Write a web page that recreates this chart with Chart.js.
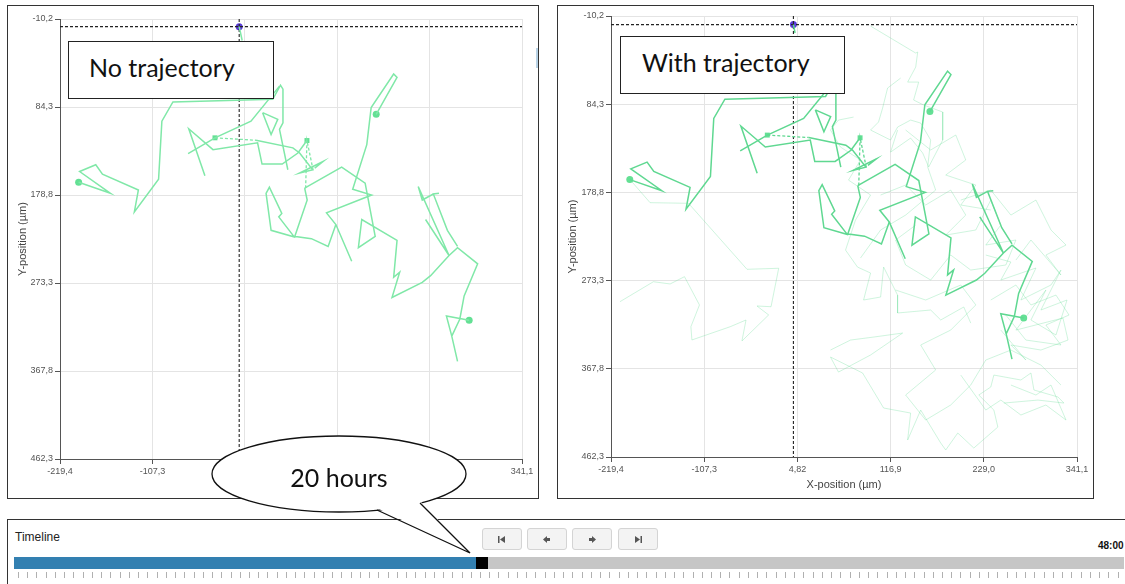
<!DOCTYPE html>
<html>
<head>
<meta charset="utf-8">
<script src="https://cdn.jsdelivr.net/npm/chart.js@4.4.0/dist/chart.umd.min.js"></script>
<style>
  body { margin: 0; width: 1125px; height: 584px; position: relative; overflow: hidden; background: #fff; font-family: 'Liberation Sans', Arial, sans-serif; }
  .panel { position: absolute; box-sizing: border-box; border: 1px solid #333; }
  canvas { position: absolute; }
  .label-box { position: absolute; box-sizing: border-box; border: 1.5px solid #222; background: #fff; font-family: Lato, 'Open Sans', sans-serif; font-size: 25px; color: #111; z-index: 5; }
  .btn { position: absolute; top: 528px; width: 40px; height: 22px; box-sizing: border-box; border: 1px solid #d4d4d4; border-radius: 3px; background: #f3f3f3; display: flex; align-items: center; justify-content: center; }
</style>
</head>
<body>

<div class="panel" style="left:7px;top:5px;width:532px;height:494px"></div>
<div class="panel" style="left:557px;top:5px;width:537px;height:494px"></div>
<div style="position:absolute;left:536px;top:48px;width:2px;height:20px;background:#b9d3e6"></div>

<canvas id="left-chart" style="left:8px;top:6px" width="530" height="492"></canvas>
<canvas id="right-chart" style="left:558px;top:6px" width="535" height="492"></canvas>

<div class="label-box" style="left:68px;top:41px;width:206px;height:58px;padding:10px 0 0 20px">No trajectory</div>
<div class="label-box" style="left:620px;top:36px;width:225px;height:58px;padding:10px 0 0 21px">With trajectory</div>

<!-- timeline -->
<div style="position:absolute;left:7px;top:519px;width:1130px;height:80px;box-sizing:border-box;border:1px solid #333"></div>
<div style="position:absolute;left:15px;top:530px;font-size:12px;color:#222">Timeline</div>
<div class="btn" style="left:482px"><svg width="10" height="9"><rect x="1" y="1" width="1.5" height="7" fill="#555"/><polygon points="3,4.5 8,1 8,8" fill="#555"/></svg></div>
<div class="btn" style="left:527px"><svg width="10" height="9"><polygon points="1,4.5 5,1 5,8" fill="#555"/><rect x="5" y="3" width="3" height="3" fill="#555"/></svg></div>
<div class="btn" style="left:572px"><svg width="10" height="9"><rect x="2" y="3" width="3" height="3" fill="#555"/><polygon points="9,4.5 5,1 5,8" fill="#555"/></svg></div>
<div class="btn" style="left:618px"><svg width="10" height="9"><polygon points="7,4.5 2,1 2,8" fill="#555"/><rect x="7.5" y="1" width="1.5" height="7" fill="#555"/></svg></div>
<div style="position:absolute;left:1098px;top:540px;font-size:10px;font-weight:bold;color:#111">48:00</div>
<div style="position:absolute;left:14px;top:557px;width:1110px;height:12px;background:#c6c6c6"></div>
<div style="position:absolute;left:14px;top:557px;width:462px;height:12px;background:#3380b1"></div>
<div style="position:absolute;left:476px;top:557px;width:12px;height:12px;background:#000"></div>
<div style="position:absolute;left:18px;top:572px;width:1107px;height:6px;background:repeating-linear-gradient(to right,#b0b0b0 0 1px,transparent 1px 9.24px)"></div>

<svg style="position:absolute;left:0;top:0;z-index:10" width="1125" height="584">
  <ellipse cx="339" cy="474" rx="127" ry="38" fill="#fff" stroke="#111" stroke-width="1.3"/>
  <polygon points="377,508 470,553 420,501" fill="#fff" stroke="none"/>
  <polyline points="377,510 470,553 420,503" fill="none" stroke="#111" stroke-width="1.3"/>
  <text x="339" y="487" text-anchor="middle" font-family="Lato, 'Open Sans', sans-serif" font-size="25" fill="#111">20 hours</text>
</svg>

<script>
const xTicks = [-219.4, -107.3, 4.82, 116.9, 229.0, 341.1];
const xTickLabels = ['-219,4', '-107,3', '4,82', '116,9', '229,0', '341,1'];
const yTicks = [-10.2, 84.3, 178.8, 273.3, 367.8, 462.3];
const yTickLabels = ['-10,2', '84,3', '178,8', '273,3', '367,8', '462,3'];

// cursor position (x, y) in µm
const cursorLeft = [-2, -2];
const cursorRight = [0, -1];
const cursorTailLeft = [[-2, -2], [1.6, 12.9]];
const cursorTailRight = [[0, -1], [2, 8]];

// tracked cells, positions in µm
const track1 = [[-196.8,165.1],[-158.2,177.0],[-195.6,153.6],[-176.0,146.3],[-167.9,156.4],[-124.3,173.4],[-129.2,196.9],[-99.8,161.8],[-95.8,99.5],[-82.4,78.9],[38.7,76.0],[48.1,60.8],[51.1,65.1],[51.1,101.2],[46.9,108.4],[57.0,151.7]];
const track2 = [[-64.0,134.4],[-31.4,117.4],[12.3,99.5],[46.9,61.9]];
const track2b = [[18.4,120.0],[63.1,128.2],[71.3,133.7],[87.2,151.7],[71.3,155.3],[99.8,142.8],[89.6,149.9]];
const track3 = [[-43.6,158.2],[-63.2,107.7],[-33.8,130.1],[20.3,122.8],[25.7,145.6],[50.2,145.6],[69.2,133.7],[80.2,120.3]];
const track4 = [[164.2,92.2],[189.5,52.5],[185.4,48.9],[158.1,84.9],[152.8,124.7],[135.7,172.6],[158.7,178.8],[103.9,198.0],[115.3,210.5],[134.5,249.9]];
const track5 = [[77.4,171.5],[80.5,184.2],[65.2,223.9],[36.7,216.7],[30.6,177.0],[34.6,170.5],[49.7,198.6],[46.0,202.3],[64.3,223.2],[85.6,225.7],[105.9,234.0],[115.3,210.5]];
const track6 = [[77.4,171.5],[122.3,148.8],[150.8,166.1],[163.0,223.2],[142.6,235.4],[146.7,205.1],[189.5,227.5],[185.4,267.2],[192.7,261.8],[183.4,288.9],[220.1,272.7],[230.2,265.4],[252.6,243.8],[262.9,235.4],[287.3,252.7],[270.9,287.1],[265.7,311.9],[255.9,330.4],[262.9,357.4],[255.9,330.4],[249.4,308.7],[277.0,313.4]];
const track7 = [[224.1,205.1],[252.6,243.8],[215.2,169.8],[220.1,184.2],[233.5,177.7],[240.4,177.0],[233.5,177.7],[250.6,216.7],[262.9,234.0]];
const track8 = [[26.4,90.4],[44.8,97.6],[36.7,113.9],[26.4,90.4]];

const dashLink1 = [[-31.4,117.4],[18.4,120.0]];
const dashLink2 = [[78.6,171.5],[80.2,120.3],[87.6,151.7]];
const dotMarks = [[-196.8,165.1],[164.2,92.2],[277.0,313.4]];
const squareMarks = [[-31.4,117.4],[80.2,120.3]];

// past trajectories (right panel only)
const fade1 = [[-194.4,167.3],[-172.4,189.8],[-126.2,190.5],[-55.8,261.2],[-17.7,260.1],[-26.9,301.3],[-43.8,300.5],[-29.8,310.1],[-61.9,338.0],[-57.0,315.5],[-76.0,322.7],[-122.1,336.9],[-123.3,322.7],[-113.0,299.4],[-131.0,269.1],[-148.3,276.9],[-168.4,274.5],[-208.6,295.9]];
const fade2 = [[92.8,0.6],[147.1,29.5],[149.5,28.4],[147.1,44.5],[137.4,60.6],[150.7,60.6],[144.6,79.8],[156.7,85.2],[179.6,92.7],[179.6,122.7],[162.7,151.6],[155.5,136.6],[141.0,120.6],[116.9,135.6],[125.3,112.0]];
const fade3 = [[129.0,56.3],[113.3,67.0],[107.3,88.4],[102.4,103.4],[92.8,112.0],[116.9,122.7],[125.3,108.8],[141.0,101.3],[153.1,104.5],[165.1,122.7],[161.5,151.6],[171.1,176.3],[135.0,203.1],[104.9,219.1],[80.7,249.1]];
const fade4 = [[72.3,98.1],[54.2,101.3],[44.6,112.0],[56.6,130.2],[80.7,144.1],[66.3,165.6],[92.8,181.6],[74.7,208.4],[62.7,240.6],[77.1,258.8],[92.8,265.2],[84.4,294.1],[104.9,290.9],[108.5,258.8],[125.3,288.8],[125.3,308.0],[165.1,304.8],[177.2,315.5],[204.9,301.6],[213.3,318.8]];
const fade5 = [[44.6,347.7],[68.7,337.0],[96.4,333.8],[131.4,329.5],[92.8,353.0],[54.2,371.3],[44.6,355.2],[83.2,372.3],[108.5,409.8],[141.0,415.2],[137.4,444.1],[153.1,412.0],[177.2,447.3],[183.2,454.8],[197.7,436.6],[217.0,452.7],[245.9,430.2],[241.1,412.0],[223.0,395.9],[237.4,387.3],[241.1,374.5],[273.6,379.8],[285.7,372.3],[289.3,390.5],[318.2,398.0],[325.4,404.5],[294.1,401.3],[253.1,404.5]];
const fade6 = [[231.4,245.9],[261.6,253.4],[249.5,272.7],[291.7,259.8],[273.6,294.1],[309.8,278.0],[321.8,262.0],[297.7,304.8],[329.1,294.1],[315.8,331.6],[285.7,315.5],[303.7,283.4],[267.6,326.3],[324.2,313.4],[330.3,337.0],[297.7,347.7],[261.6,342.3],[279.6,358.4],[249.5,326.3]];
const fade7 = [[104.9,181.6],[135.0,170.9],[159.1,192.3],[189.2,176.3],[207.3,203.1],[183.2,224.5],[219.4,219.1],[237.4,187.0],[249.5,213.8],[231.4,235.2],[267.6,229.8],[255.5,256.6],[213.3,262.0],[189.2,245.9],[165.1,272.7],[135.0,256.6],[122.9,229.8],[147.1,213.8]];
const fade8 = [[122.9,283.4],[159.1,294.1],[201.3,278.0],[219.4,299.4],[189.2,326.3],[153.1,342.3],[171.1,369.1],[135.0,395.9],[159.1,422.7],[189.2,406.6],[213.3,385.2],[231.4,358.4],[261.6,347.7],[297.7,363.8],[321.8,385.2]];
const fade9 = [[201.3,187.0],[237.4,176.3],[261.6,203.1],[291.7,187.0],[309.8,219.1],[327.9,235.2],[303.7,245.9],[321.8,267.3],[285.7,229.8],[267.6,251.3]];
const fade10 = [[201.3,374.5],[231.4,412.0],[249.5,401.3],[273.6,417.3],[303.7,406.6],[327.9,422.7],[309.8,385.2],[291.7,395.9],[261.6,385.2]];
const fade11 = [[135.0,112.0],[165.1,133.4],[195.3,117.3],[207.3,144.1],[183.2,160.2],[219.4,170.9],[201.3,192.3],[237.4,197.7]];
const fade12 = [[237.4,294.1],[267.6,278.0],[285.7,299.4],[315.8,288.8],[331.5,310.2],[303.7,320.9],[321.8,342.3],[279.6,337.0],[255.5,310.2]];

const tracks = [track1, track2, track2b, track3, track4, track5, track6, track7, track8];
const fades = [fade1, fade2, fade3, fade4, fade5, fade6, fade7, fade8, fade9, fade10, fade11, fade12];

const FONT = "'Liberation Sans', Arial, sans-serif";
const MARK = '#63e094';

const toPts = arr => arr.map(([x, y]) => ({ x, y }));

function lineDs(arr, color, width, dash) {
  return {
    data: toPts(arr),
    showLine: true,
    borderColor: color,
    borderWidth: width,
    borderDash: dash || [],
    pointRadius: 0,
    fill: false,
    tension: 0,
  };
}

function markDs(arr, style, color, r) {
  return {
    data: toPts(arr),
    showLine: false,
    pointStyle: style,
    pointRadius: r,
    pointBackgroundColor: color,
    pointBorderColor: color,
    pointBorderWidth: 0,
  };
}

function cursorSets(cur, tail, tailColor) {
  return [
    lineDs(tail, tailColor, 1.5),
    lineDs([[-219.4, cur[1]], [341.1, cur[1]]], '#222', 1.1, [3, 2]),
    lineDs([[cur[0], -10.2], [cur[0], 462.3]], '#222', 1.1, [3, 2]),
    markDs([cur], 'circle', '#5a3ddb', 3.5),
  ];
}

function makeScales(xAxisH, yAxisW, showXTitle) {
  return {
    x: {
      type: 'linear',
      min: -219.4,
      max: 341.1,
      afterBuildTicks: s => { s.ticks = xTicks.map(v => ({ value: v })); },
      afterFit: s => { s.height = xAxisH; },
      ticks: {
        autoSkip: false,
        maxRotation: 0,
        padding: 2,
        color: '#555',
        font: { family: FONT, size: 9 },
        callback: (v, i) => xTickLabels[i],
      },
      grid: { color: '#e4e4e4', tickColor: '#555', tickLength: 5 },
      border: { color: '#555', width: 1 },
      title: {
        display: showXTitle,
        text: 'X-position (µm)',
        color: '#444',
        font: { family: FONT, size: 11 },
        padding: { top: 4, bottom: 6 },
      },
    },
    y: {
      type: 'linear',
      reverse: true,
      min: -10.2,
      max: 462.3,
      afterBuildTicks: s => { s.ticks = yTicks.map(v => ({ value: v })); },
      afterFit: s => { s.width = yAxisW; },
      ticks: {
        autoSkip: false,
        padding: 2,
        color: '#555',
        font: { family: FONT, size: 9 },
        callback: (v, i) => yTickLabels[i],
      },
      grid: { color: '#e4e4e4', tickColor: '#555', tickLength: 5 },
      border: { color: '#555', width: 1 },
      title: {
        display: true,
        text: 'Y-position (µm)',
        color: '#444',
        font: { family: FONT, size: 11 },
        padding: { top: 8, bottom: 2 },
      },
    },
  };
}

function makeChart(id, datasets, opts) {
  return new Chart(document.getElementById(id), {
    type: 'scatter',
    data: { datasets },
    options: {
      responsive: false,
      animation: false,
      layout: { padding: opts.padding },
      plugins: { legend: { display: false }, tooltip: { enabled: false } },
      scales: makeScales(opts.xAxisH, opts.yAxisW, opts.showXTitle),
    },
  });
}

// left panel: current tracks only
const leftColor = '#80e8a8';
const leftSets = [
  ...tracks.map(t => lineDs(t, leftColor, 1.5)),
  lineDs(dashLink1, leftColor, 1.3, [3, 2]),
  lineDs(dashLink2, leftColor, 1.3, [3, 2]),
  markDs(dotMarks, 'circle', MARK, 3.5),
  markDs(squareMarks, 'rect', MARK, 3.5),
  ...cursorSets(cursorLeft, cursorTailLeft, leftColor),
];
makeChart('left-chart', leftSets, {
  padding: { top: 13, right: 16, bottom: 0, left: 0 },
  xAxisH: 39,
  yAxisW: 52,
  showXTitle: true,
});

// right panel: same tracks plus faded past trajectories
const boldColor = '#5fd891';
const rightSets = [
  ...fades.map(t => lineDs(t, 'rgba(110, 222, 155, 0.33)', 1)),
  ...tracks.map(t => lineDs(t, boldColor, 1.5)),
  lineDs(dashLink1, boldColor, 1.3, [3, 2]),
  lineDs(dashLink2, boldColor, 1.3, [3, 2]),
  markDs(dotMarks, 'circle', MARK, 3.5),
  markDs(squareMarks, 'rect', MARK, 3.5),
  ...cursorSets(cursorRight, cursorTailRight, boldColor),
];
makeChart('right-chart', rightSets, {
  padding: { top: 10, right: 16, bottom: 0, left: 0 },
  xAxisH: 41,
  yAxisW: 53,
  showXTitle: true,
});
</script>
</body>
</html>
